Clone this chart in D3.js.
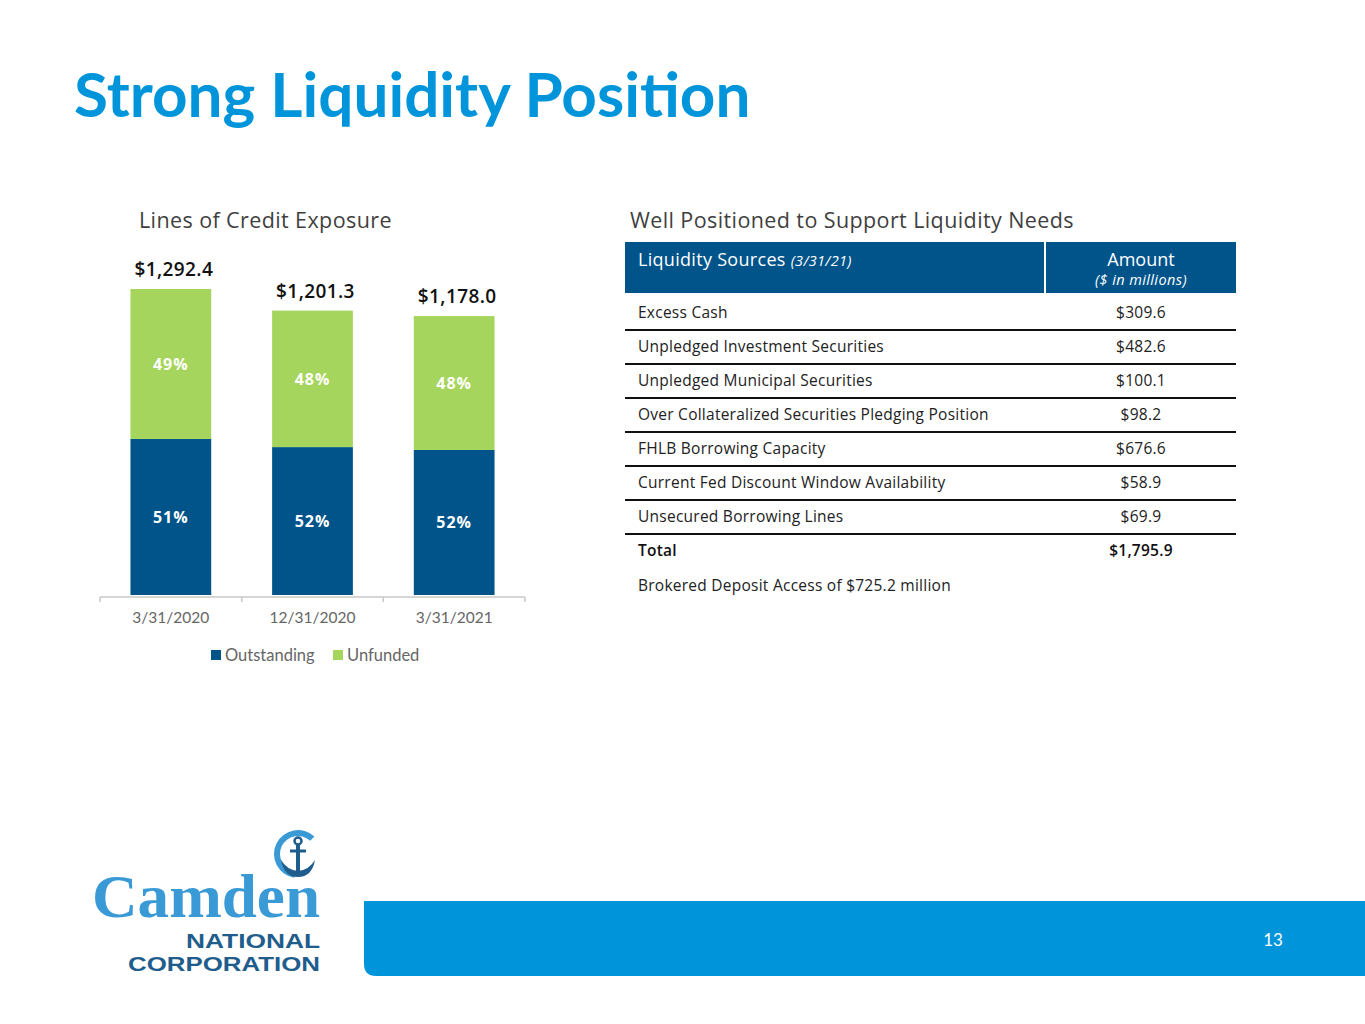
<!DOCTYPE html>
<html>
<head>
<meta charset="utf-8">
<script src="https://cdn.jsdelivr.net/npm/d3@7"></script>
<style>
  body { margin: 0; background: #fff; }
  svg { display: block; font-family: "Open Sans", Lato, sans-serif; }
</style>
</head>
<body>
<script>
// chart data
const periods = ["3/31/2020", "12/31/2020", "3/31/2021"];
const totals = [1292.4, 1201.3, 1178.0];
const totalLabels = ["$1,292.4", "$1,201.3", "$1,178.0"];
const outstandingPct = [51, 52, 52];
const unfundedPct = [49, 48, 48];
const seriesNames = ["Outstanding", "Unfunded"];

// table data
const sources = [
  "Excess Cash",
  "Unpledged Investment Securities",
  "Unpledged Municipal Securities",
  "Over Collateralized Securities Pledging Position",
  "FHLB Borrowing Capacity",
  "Current Fed Discount Window Availability",
  "Unsecured Borrowing Lines"
];
const amounts = ["$309.6", "$482.6", "$100.1", "$98.2", "$676.6", "$58.9", "$69.9"];
const totalAmount = "$1,795.9";
const brokeredNote = "Brokered Deposit Access of $725.2 million";

const width = 1365;
const height = 1024;
const blue = "#00548a";
const green = "#a5d55c";
const brand = "#0095da";

const svg = d3.select("body").append("svg")
  .attr("width", width)
  .attr("height", height);

// title
svg.append("text")
  .attr("x", 74).attr("y", 117)
  .attr("fill", brand)
  .attr("font-family", "Lato, sans-serif")
  .attr("font-size", 62)
  .attr("font-weight", 700)
  .text("Strong Liquidity Position");

// ---------- bar chart ----------
svg.append("text")
  .attr("x", 139).attr("y", 228)
  .attr("fill", "#3f3f3f")
  .attr("font-size", 21.5)
  .attr("letter-spacing", 0.4)
  .text("Lines of Credit Exposure");

const rows = periods.map((p, i) => ({
  period: p,
  Outstanding: totals[i] * outstandingPct[i] / 100,
  Unfunded: totals[i] * unfundedPct[i] / 100,
  outPct: outstandingPct[i],
  unPct: unfundedPct[i],
  total: totals[i],
  label: totalLabels[i]
}));

const xScale = d3.scaleBand()
  .domain(periods)
  .range([100, 525])
  .paddingInner(0.43)
  .paddingOuter(0.215);

const yScale = d3.scaleLinear()
  .domain([0, d3.max(totals)])
  .range([595, 289]);

const stack = d3.stack().keys(seriesNames)(rows);
const colors = d3.scaleOrdinal().domain(seriesNames).range([blue, green]);

const layers = svg.append("g").selectAll("g")
  .data(stack)
  .join("g")
  .attr("fill", d => colors(d.key));

layers.selectAll("rect")
  .data(d => d)
  .join("rect")
  .attr("x", d => xScale(d.data.period))
  .attr("y", d => yScale(d[1]))
  .attr("width", xScale.bandwidth())
  .attr("height", d => yScale(d[0]) - yScale(d[1]));

// percent labels in segments
layers.selectAll("text")
  .data(d => d.map(v => Object.assign({ key: d.key }, v)))
  .join("text")
  .attr("x", d => xScale(d.data.period) + xScale.bandwidth() / 2)
  .attr("y", d => (yScale(d[0]) + yScale(d[1])) / 2 + 6)
  .attr("text-anchor", "middle")
  .attr("fill", "#fff")
  .attr("font-size", 16)
  .attr("font-weight", 700)
  .attr("letter-spacing", 1)
  .text(d => (d.key === "Outstanding" ? d.data.outPct : d.data.unPct) + "%");

// total labels
svg.append("g").selectAll("text")
  .data(rows)
  .join("text")
  .attr("x", d => xScale(d.period) + xScale.bandwidth() / 2 + 3)
  .attr("y", d => yScale(d.total) - 13)
  .attr("text-anchor", "middle")
  .attr("fill", "#111")
  .attr("font-size", 19)
  .attr("font-weight", 600)
  .attr("letter-spacing", 0.4)
  .text(d => d.label);

// x axis with ticks between categories
const axisY = 597;
const axis = svg.append("g").attr("transform", `translate(0,${axisY})`);
axis.append("line")
  .attr("x1", xScale.range()[0]).attr("x2", xScale.range()[1])
  .attr("stroke", "#c8c8c8").attr("stroke-width", 1.5);
axis.selectAll("line.tick")
  .data(d3.range(periods.length + 1))
  .join("line")
  .attr("class", "tick")
  .attr("x1", i => xScale.range()[0] + i * xScale.step())
  .attr("x2", i => xScale.range()[0] + i * xScale.step())
  .attr("y1", 0).attr("y2", 5)
  .attr("stroke", "#c8c8c8").attr("stroke-width", 1.5);
axis.selectAll("text")
  .data(periods)
  .join("text")
  .attr("x", d => xScale(d) + xScale.bandwidth() / 2)
  .attr("y", 26)
  .attr("text-anchor", "middle")
  .attr("fill", "#666")
  .attr("font-family", "Lato, sans-serif")
  .attr("font-size", 15.5)
  .text(d => d);

// legend
const legend = svg.append("g").attr("transform", "translate(211,655)");
const legendX = [0, 122];
seriesNames.forEach((name, i) => {
  const g = legend.append("g").attr("transform", `translate(${legendX[i]},0)`);
  g.append("rect").attr("x", 0).attr("y", -5).attr("width", 10).attr("height", 10)
    .attr("fill", colors(name));
  g.append("text").attr("x", 14).attr("y", 6)
    .attr("fill", "#666").attr("font-family", "Lato, sans-serif")
    .attr("font-size", 16.5).text(name);
});

// ---------- table ----------
svg.append("text")
  .attr("x", 630).attr("y", 228)
  .attr("fill", "#3f3f3f")
  .attr("font-size", 21.5)
  .attr("letter-spacing", 0.4)
  .text("Well Positioned to Support Liquidity Needs");

const tLeft = 625, tRight = 1236, tDiv = 1045, amountX = 1141;
const headTop = 242, headBottom = 293, rowH = 34;

svg.append("rect")
  .attr("x", tLeft).attr("y", headTop)
  .attr("width", tRight - tLeft).attr("height", headBottom - headTop)
  .attr("fill", blue);
svg.append("line")
  .attr("x1", tDiv).attr("x2", tDiv)
  .attr("y1", headTop).attr("y2", headBottom)
  .attr("stroke", "#fff").attr("stroke-width", 2);

const h1 = svg.append("text")
  .attr("x", 638).attr("y", 266)
  .attr("fill", "#fff").attr("font-size", 18).attr("letter-spacing", 0.3);
h1.append("tspan").text("Liquidity Sources ");
h1.append("tspan").attr("font-style", "italic").attr("font-size", 14.5).text("(3/31/21)");

svg.append("text")
  .attr("x", amountX).attr("y", 266)
  .attr("text-anchor", "middle")
  .attr("fill", "#fff").attr("font-size", 18)
  .text("Amount");
svg.append("text")
  .attr("x", amountX).attr("y", 285)
  .attr("text-anchor", "middle")
  .attr("fill", "#fff").attr("font-size", 14.5).attr("font-style", "italic")
  .attr("letter-spacing", 0.4)
  .text("($ in millions)");

const tableRows = sources.map((s, i) => ({ name: s, value: amounts[i], bold: false }))
  .concat([{ name: "Total", value: totalAmount, bold: true }]);

const rowY = d3.scaleLinear().domain([0, 1]).range([headBottom, headBottom + rowH]);

const tr = svg.append("g").selectAll("g")
  .data(tableRows)
  .join("g")
  .attr("transform", (d, i) => `translate(0,${rowY(i)})`);

tr.append("text")
  .attr("x", 638).attr("y", 25)
  .attr("fill", d => d.bold ? "#111" : "#222")
  .attr("font-size", 15.5)
  .attr("letter-spacing", 0.25)
  .attr("font-weight", d => d.bold ? 600 : 400)
  .text(d => d.name);

tr.append("text")
  .attr("x", amountX).attr("y", 25)
  .attr("text-anchor", "middle")
  .attr("fill", d => d.bold ? "#111" : "#222")
  .attr("font-size", 15.5)
  .attr("letter-spacing", 0.25)
  .attr("font-weight", d => d.bold ? 600 : 400)
  .text(d => d.value);

tr.filter(d => !d.bold).append("line")
  .attr("x1", tLeft).attr("x2", tRight)
  .attr("y1", rowH + 3).attr("y2", rowH + 3)
  .attr("stroke", "#111").attr("stroke-width", 2);

svg.append("text")
  .attr("x", 638).attr("y", rowY(tableRows.length) + 26)
  .attr("fill", "#222").attr("font-size", 15.5)
  .attr("letter-spacing", 0.25)
  .text(brokeredNote);

// ---------- footer ----------
svg.append("path")
  .attr("d", "M364,901 H1365 V976 H376 Q364,976 364,964 Z")
  .attr("fill", brand);
svg.append("text")
  .attr("x", 1273).attr("y", 946)
  .attr("text-anchor", "middle")
  .attr("fill", "#fff").attr("font-family", "Lato, sans-serif").attr("font-size", 17)
  .text("13");

// logo
const logo = svg.append("g");
const navy = "#1f5d8d";
logo.append("path")
  .attr("d", d3.arc()({ innerRadius: 18, outerRadius: 24, startAngle: 3.3, endAngle: 2 * Math.PI + 0.75 }))
  .attr("transform", "translate(298,854)")
  .attr("fill", "#3a9ad6");
logo.append("circle").attr("cx", 298).attr("cy", 841).attr("r", 3.5)
  .attr("fill", "none").attr("stroke", navy).attr("stroke-width", 2.5);
logo.append("line").attr("x1", 298).attr("x2", 298).attr("y1", 844).attr("y2", 874)
  .attr("stroke", navy).attr("stroke-width", 4);
logo.append("line").attr("x1", 290).attr("x2", 306).attr("y1", 851).attr("y2", 851)
  .attr("stroke", navy).attr("stroke-width", 3);
logo.append("path")
  .attr("d", "M281,860 Q284,877 298,877 Q312,877 315,860 Q309,870 298,871 Q287,870 281,860 Z")
  .attr("fill", navy);

logo.append("text")
  .attr("x", 92).attr("y", 917)
  .attr("fill", "#3a9ad6")
  .attr("font-family", "'Liberation Serif', serif")
  .attr("font-weight", 700)
  .attr("font-size", 61)
  .attr("textLength", 228)
  .attr("lengthAdjust", "spacingAndGlyphs")
  .text("Camden");
logo.append("text")
  .attr("x", 186).attr("y", 948)
  .attr("fill", navy)
  .attr("font-family", "'Liberation Sans', sans-serif")
  .attr("font-weight", 700)
  .attr("font-size", 20)
  .attr("textLength", 134)
  .attr("lengthAdjust", "spacingAndGlyphs")
  .text("NATIONAL");
logo.append("text")
  .attr("x", 128).attr("y", 971)
  .attr("fill", navy)
  .attr("font-family", "'Liberation Sans', sans-serif")
  .attr("font-weight", 700)
  .attr("font-size", 20)
  .attr("textLength", 192)
  .attr("lengthAdjust", "spacingAndGlyphs")
  .text("CORPORATION");
</script>
</body>
</html>
